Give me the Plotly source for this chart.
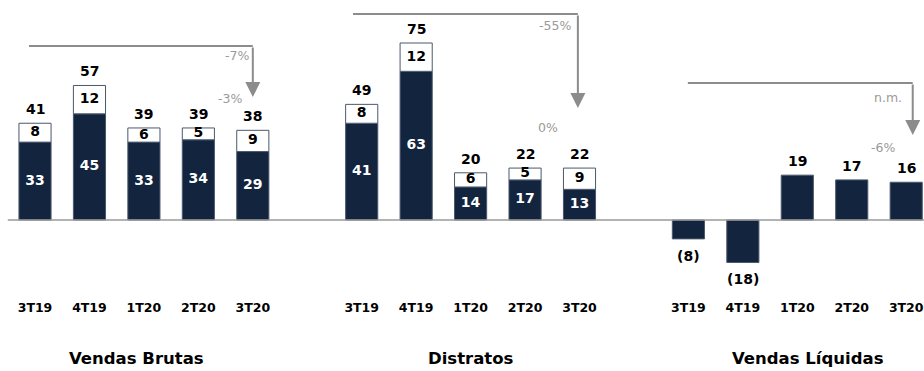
import plotly.graph_objects as go

# ---------------- data ----------------
quarters = ["3T19", "4T19", "1T20", "2T20", "3T20"]
groups = ["Vendas Brutas", "Distratos", "Vendas Líquidas"]

brutas_base = [33, 45, 33, 34, 29]
brutas_top = [8, 12, 6, 5, 9]
brutas_total = [41, 57, 39, 39, 38]

distratos_base = [41, 63, 14, 17, 13]
distratos_top = [8, 12, 6, 5, 9]
distratos_total = [49, 75, 20, 22, 22]

liquidas = [-8, -18, 19, 17, 16]

var_year = ["-7%", "-55%", "n.m."]      # 3T20 vs 3T19
var_quarter = ["-3%", "0%", "-6%"]      # 3T20 vs 2T20

# ---------------- styles ----------------
NAVY = "#13243f"
EDGE = "#4a586d"
GREY = "#8c8c8c"
FONT = "DejaVu Sans"
VAL_SIZE = 14
TITLE_X_OFFSET = [-0.13, 0.0, 0.2]

# x slots: 5 bars per group with one empty slot between groups
slots = [g * 6 + i for g in range(3) for i in range(5)]
base_vals = brutas_base + distratos_base + liquidas
top_vals = brutas_top + distratos_top + [None] * 5
totals = brutas_total + distratos_total + [None] * 5

fig = go.Figure()
fig.add_trace(go.Bar(x=slots, y=base_vals, width=0.59,
                     marker=dict(color=NAVY, line=dict(color=EDGE, width=1)),
                     hoverinfo="skip", showlegend=False))
fig.add_trace(go.Bar(x=slots, y=top_vals, width=0.59,
                     marker=dict(color="white", line=dict(color=EDGE, width=1)),
                     hoverinfo="skip", showlegend=False))

# inside labels (first two groups)
inner_x = slots[:10]
inner_base = base_vals[:10]
inner_top = top_vals[:10]
fig.add_trace(go.Scatter(x=inner_x, y=[b / 2 for b in inner_base], mode="text",
                         text=[f"<b>{b}</b>" for b in inner_base],
                         textfont=dict(color="white", size=VAL_SIZE, family=FONT),
                         hoverinfo="skip", showlegend=False, cliponaxis=False))
fig.add_trace(go.Scatter(x=inner_x, y=[b + t / 2 for b, t in zip(inner_base, inner_top)],
                         mode="text", text=[f"<b>{t}</b>" for t in inner_top],
                         textfont=dict(color="black", size=VAL_SIZE, family=FONT),
                         hoverinfo="skip", showlegend=False, cliponaxis=False))

annotations = []
# totals above stacked bars
for x, t in zip(slots[:10], totals[:10]):
    annotations.append(dict(x=x, y=t, xref="x", yref="y", text=f"<b>{t}</b>",
                            showarrow=False, yanchor="bottom", yshift=4,
                            font=dict(size=VAL_SIZE, color="black", family=FONT)))
# net sales labels
for x, v in zip(slots[10:], liquidas):
    txt = f"<b>{v}</b>" if v >= 0 else f"<b>({abs(v)})</b>"
    annotations.append(dict(x=x, y=v, xref="x", yref="y", text=txt, showarrow=False,
                            yanchor="bottom" if v >= 0 else "top",
                            yshift=4 if v >= 0 else -7,
                            font=dict(size=VAL_SIZE, color="black", family=FONT)))

# group titles
for g, name in enumerate(groups):
    annotations.append(dict(x=g * 6 + 2 + TITLE_X_OFFSET[g], y=-0.2136, xref="x", yref="paper",
                            text=f"<b>{name}</b>", showarrow=False, yanchor="middle",
                            font=dict(size=16.5, color="black", family=FONT)))

# variation arrows (decoration layout)
arrow_cfg = [
    # x_start, y_horizontal, x_arrow, y_tip, (x,y) year label, (x,y) quarter label
    (-0.11, 73.7, 4.0, 52.1, (3.71, 69.9), (3.58, 51.3)),
    (5.84, 87.3, 9.97, 47.5, (9.55, 82.6), (9.42, 39.0)),
    (11.99, 58.1, 16.12, 36.0, (15.67, 52.1), (15.57, 30.9)),
]
shapes = []
for g, (xs, yh, xa, yt, ly, lq) in enumerate(arrow_cfg):
    shapes.append(dict(type="line", xref="x", yref="y", x0=xs, x1=xa, y0=yh, y1=yh,
                       line=dict(color=GREY, width=2)))
    annotations.append(dict(x=xa, y=yt, ax=xa, ay=yh, xref="x", yref="y",
                            axref="x", ayref="y", text="", showarrow=True,
                            arrowhead=2, arrowsize=1.5, arrowwidth=2,
                            arrowcolor=GREY, standoff=0, startstandoff=0))
    annotations.append(dict(x=ly[0], y=ly[1], xref="x", yref="y", text=var_year[g],
                            showarrow=False, font=dict(size=12.5, color="#9a9a9a", family=FONT)))
    annotations.append(dict(x=lq[0], y=lq[1], xref="x", yref="y", text=var_quarter[g],
                            showarrow=False, font=dict(size=12.5, color="#9a9a9a", family=FONT)))

# baseline
shapes.append(dict(type="line", xref="x", yref="y", x0=-0.5, x1=16.4, y0=0, y1=0,
                   line=dict(color="#9a9a9a", width=1.5)))

fig.update_layout(
    width=924, height=371,
    margin=dict(l=0, r=0, t=0, b=76),
    barmode="relative",
    plot_bgcolor="white", paper_bgcolor="white",
    font=dict(family=FONT, color="black"),
    shapes=shapes, annotations=annotations,
    xaxis=dict(range=[-0.643, 16.327], tickmode="array", tickvals=slots,
               ticktext=[f"<b>{q}</b>" for q in quarters * 3],
               tickfont=dict(size=12.5, family=FONT, color="black"),
               ticklabelstandoff=3,
               showgrid=False, zeroline=False, showline=False, ticks=""),
    yaxis=dict(range=[-31.78, 93.22], visible=False, showgrid=False, zeroline=False),
)

fig.write_html("out.html")
